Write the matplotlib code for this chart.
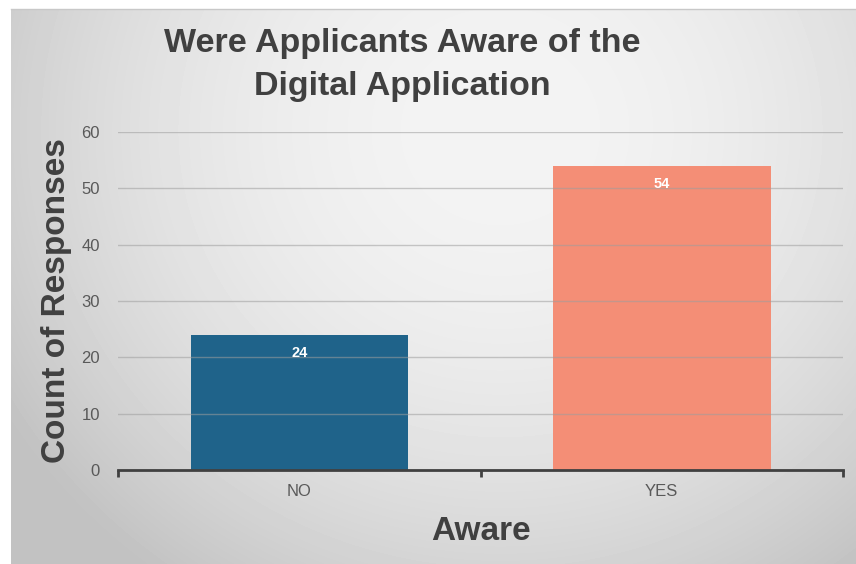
import numpy as np
import matplotlib.pyplot as plt

categories = ["NO", "YES"]
counts = [24, 54]
bar_colors = ["#1F638A", "#F48E76"]
y_ticks = [0, 10, 20, 30, 40, 50, 60]

plt.rcParams['font.family'] = ['Liberation Sans', 'DejaVu Sans']

W, H = 856, 564
fig = plt.figure(figsize=(W / 100, H / 100), dpi=100)
fig.patch.set_facecolor("white")

# soft radial grey backdrop behind the chart
bg = fig.add_axes([11 / W, 0, 1 - 11 / W, 1 - 9 / H])
bg.set_axis_off()
yy, xx = np.mgrid[9:H, 11:W]
d = np.hypot(xx - 500, (yy - 130) * 1.05)
shade = 0.955 - 0.17 * (d / 540) ** 2
shade = np.clip(shade, 0.76, 0.96)
bg.imshow(shade, cmap="gray", vmin=0, vmax=1, aspect="auto",
          interpolation="bilinear")
fig.add_artist(plt.Line2D([11 / W, 1], [1 - 9 / H, 1 - 9 / H],
                          color="#c8c8c8", lw=1, transform=fig.transFigure))

ax = fig.add_axes([118 / W, 1 - 470 / H, (843 - 118) / W, (470 - 132) / H])
ax.patch.set_alpha(0)

x = np.arange(len(categories))
bars = ax.bar(x, counts, width=0.6, color=bar_colors, zorder=2)
for b, v in zip(bars, counts):
    ax.text(b.get_x() + b.get_width() / 2, v - 1.9, str(v), ha="center",
            va="top", color="white", fontsize=10.5, fontweight="bold", zorder=4)

ax.set_xlim(-0.5, 1.5)
ax.set_ylim(0, 60)
ax.set_yticks(y_ticks)
ax.yaxis.grid(True, color="#9e9e9e", lw=1, alpha=0.55, zorder=3)
ax.set_axisbelow(False)
ax.tick_params(axis="y", length=0, labelsize=12, labelcolor="#595959", pad=13)

ax.set_xticks(x)
ax.set_xticklabels(categories)
ax.tick_params(axis="x", length=0, labelsize=12, labelcolor="#595959", pad=10)
ax.set_xticks([-0.5, 0.5, 1.5], minor=True)
ax.tick_params(axis="x", which="minor", length=5, width=2, color="#404040")

for s in ["top", "right", "left"]:
    ax.spines[s].set_visible(False)
ax.spines["bottom"].set_color("#404040")
ax.spines["bottom"].set_linewidth(2)
ax.spines["bottom"].set_zorder(5)

ax.set_xlabel("Aware", fontsize=24, fontweight="bold", color="#404040",
              labelpad=12)
fig.text(57 / W, 1 - 301 / H, "Count of Responses", rotation=90,
         ha="center", va="center", fontsize=24, fontweight="bold",
         color="#404040")

fig.text(402 / W, 1 - 65 / H, "Were Applicants Aware of the\nDigital Application",
         ha="center", va="center", fontsize=24.5, fontweight="bold",
         color="#404040", linespacing=1.5)

fig.savefig("out.png", dpi=100)
